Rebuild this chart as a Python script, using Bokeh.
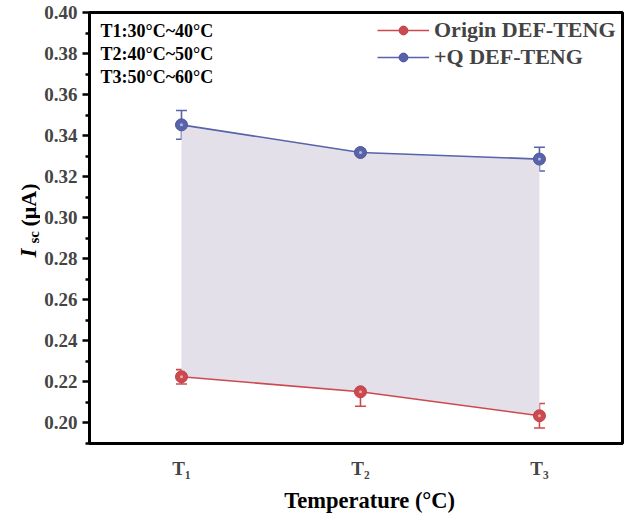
import math
from bokeh.plotting import figure
from bokeh.layouts import row, column
from bokeh.models import (ColumnDataSource, Whisker, TeeHead, Label, Legend, LegendItem,
                          Range1d, FixedTicker, PrintfTickFormatter)
from bokeh.core.properties import value
from bokeh.embed import file_html
from bokeh.resources import INLINE

# ---------------- data ----------------
x_pos = [1, 2, 3]
tick_labels = ["T\u2081", "T\u2082", "T\u2083"]
origin_vals = [0.2223, 0.2150, 0.2033]
origin_err = [0.0035, 0.0071, 0.0060]
q_vals = [0.3452, 0.3317, 0.3285]
q_err = [0.0070, 0.0010, 0.0058]
series_names = ["Origin DEF-TENG", "+Q DEF-TENG"]
note_lines = ["T1:30\u00b0C~40\u00b0C", "T2:40\u00b0C~50\u00b0C", "T3:50\u00b0C~60\u00b0C"]
y_ticks = [0.20, 0.22, 0.24, 0.26, 0.28, 0.30, 0.32, 0.34, 0.36, 0.38, 0.40]
y_minor = [0.19, 0.21, 0.23, 0.25, 0.27, 0.29, 0.31, 0.33, 0.35, 0.37, 0.39]
y_title_parts = ["I", "sc", "(\u03bcA)"]
x_title = "Temperature (\u00b0C)"

# ---------------- style ----------------
RED = "#cc4a4f"
BLUE = "#5863aa"
FILL = "#e4e0ea"
FONT = "Liberation Serif"

W, H = 624, 521
LW = 40                      # width of the y-title strip
BH = 33                      # height of the x-title strip
X0, X1 = 0.486, 3.464
Y0, Y1 = 0.18976, 0.40
L, R, T, B = 89 - LW, 2, 12, 45
FW, FH = 533, 431
PW, PH = L + FW + R, T + FH + B

def px_x(px):
    return X0 + (px - 89) * (X1 - X0) / FW

def px_y(py):
    return Y1 - (py - T) * (Y1 - Y0) / FH

def strip(w, h):
    f = figure(width=w, height=h, x_range=Range1d(0, w), y_range=Range1d(0, h),
               x_axis_location=None, y_axis_location=None,
               min_border_left=0, min_border_right=0, min_border_top=0, min_border_bottom=0,
               output_backend="svg", toolbar_location=None)
    f.grid.visible = False
    f.outline_line_color = None
    f.background_fill_color = "white"
    f.border_fill_color = "white"
    return f

# ---------- y-axis title strip ----------
lab = strip(LW, H)
ang = math.pi / 2
lab.text(x=[28], y=[H - 257], text=[y_title_parts[0]], angle=ang, text_align="left",
         text_baseline="alphabetic", text_font=value(FONT), text_font_style="bold italic",
         text_font_size="23px", text_color="black")
lab.text(x=[33], y=[H - 243], text=[y_title_parts[1]], angle=ang, text_align="left",
         text_baseline="alphabetic", text_font=value(FONT), text_font_style="bold",
         text_font_size="15px", text_color="black")
lab.text(x=[28], y=[H - 226], text=[y_title_parts[2]], angle=ang, text_align="left",
         text_baseline="alphabetic", text_font=value(FONT), text_font_style="bold",
         text_font_size="22px", text_color="black")

# ---------- x-axis title strip ----------
bot = strip(PW, BH)
bot.text(x=[307], y=[BH - (500 - PH)], text=[x_title], text_align="center",
         text_baseline="middle", text_font=value(FONT), text_font_style="bold",
         text_font_size="22.5px", text_color="black")

# ---------- main plot ----------
p = figure(width=PW, height=PH, frame_width=FW, frame_height=FH,
           min_border_left=L, min_border_right=R, min_border_top=T, min_border_bottom=B,
           x_range=Range1d(X0, X1), y_range=Range1d(Y0, Y1),
           output_backend="svg", toolbar_location=None)
p.grid.visible = False
p.outline_line_color = "black"
p.outline_line_width = 3
p.background_fill_color = "white"
p.border_fill_color = "white"

src = ColumnDataSource(dict(x=x_pos, lo=origin_vals, hi=q_vals,
                            olo=[v - e for v, e in zip(origin_vals, origin_err)],
                            ohi=[v + e for v, e in zip(origin_vals, origin_err)],
                            qlo=[v - e for v, e in zip(q_vals, q_err)],
                            qhi=[v + e for v, e in zip(q_vals, q_err)]))
p.varea(x="x", y1="lo", y2="hi", source=src, fill_color=FILL, fill_alpha=1.0)

for lo, hi, col in [("olo", "ohi", RED), ("qlo", "qhi", BLUE)]:
    w = Whisker(base="x", lower=lo, upper=hi, source=src, line_color=col, line_width=1.6,
                upper_head=TeeHead(size=11, line_color=col, line_width=1.6),
                lower_head=TeeHead(size=11, line_color=col, line_width=1.6))
    p.add_layout(w)

r_line = p.line("x", "lo", source=src, line_color=RED, line_width=1.6)
r_pt = p.scatter("x", "lo", source=src, size=12, fill_color=RED, line_color="#bb4248", line_width=1)
p.scatter("x", "lo", source=src, size=3, fill_color="#eea9ac", line_color=None)
b_line = p.line("x", "hi", source=src, line_color=BLUE, line_width=1.6)
b_pt = p.scatter("x", "hi", source=src, size=12, fill_color=BLUE, line_color="#4a5599", line_width=1)
p.scatter("x", "hi", source=src, size=3, fill_color="#b4bbe0", line_color=None)

xa = p.xaxis[0]
xa.ticker = FixedTicker(ticks=x_pos)
xa.major_label_overrides = {x: t for x, t in zip(x_pos, tick_labels)}
xa.major_tick_line_color = None
xa.minor_tick_line_color = None
xa.axis_line_width = 3
xa.major_label_text_font = FONT
xa.major_label_text_font_style = "bold"
xa.major_label_text_font_size = "19px"
xa.major_label_standoff = 8

ya = p.yaxis[0]
ya.ticker = FixedTicker(ticks=y_ticks, minor_ticks=y_minor)
ya.formatter = PrintfTickFormatter(format="%.2f")
ya.axis_line_width = 3
ya.major_tick_line_width = 2.5
ya.minor_tick_line_width = 2.5
ya.major_tick_out = 7
ya.major_tick_in = 0
ya.minor_tick_out = 4
ya.minor_tick_in = 0
ya.major_label_text_font = FONT
ya.major_label_text_font_style = "bold"
ya.major_label_text_font_size = "19px"
ya.major_label_standoff = 5

for i, t in enumerate(note_lines):
    p.add_layout(Label(x=px_x(100), y=px_y(30 + 23 * i), text=t, text_align="left",
                       text_baseline="middle", text_font=FONT, text_font_style="bold",
                       text_font_size="18px", text_color="black"))

legend = Legend(items=[LegendItem(label=series_names[0], renderers=[r_line, r_pt]),
                       LegendItem(label=series_names[1], renderers=[b_line, b_pt])],
                location=(288, 373))
legend.padding = 0
legend.spacing = 1
legend.glyph_width = 52
legend.glyph_height = 22
legend.label_height = 22
legend.label_standoff = 5
legend.label_text_font = FONT
legend.label_text_font_style = "bold"
legend.label_text_font_size = "22px"
legend.border_line_color = None
legend.background_fill_alpha = 0
p.add_layout(legend)

layout = row(lab, column(p, bot, spacing=0), spacing=0)
open("out.html", "w").write(file_html(layout, INLINE))
